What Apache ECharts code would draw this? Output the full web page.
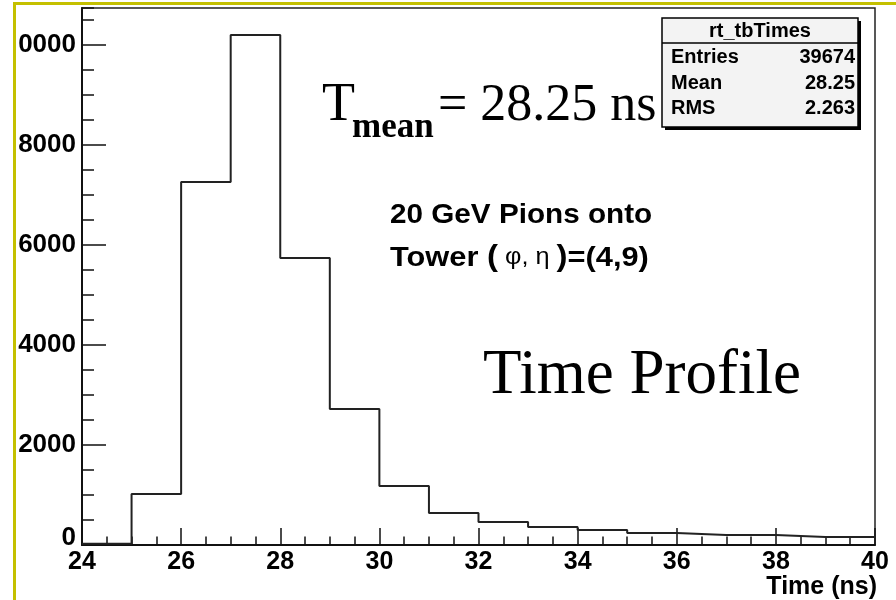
<!DOCTYPE html>
<html>
<head>
<meta charset="utf-8">
<script src="https://cdn.jsdelivr.net/npm/echarts@6/dist/echarts.min.js"></script>
<style>
  html, body { margin: 0; padding: 0; background: #fff; }
  #chart { width: 896px; height: 600px; }
</style>
</head>
<body>
<div id="chart"></div>
<script>
// Histogram bins: lower edges (ns) and counts per 1 ns bin
const binEdges = [24, 25, 26, 27, 28, 29, 30, 31, 32, 33, 34, 35, 36, 37, 38, 39, 40];
const binCounts = [25, 1020, 7260, 10200, 5740, 2720, 1180, 640, 460, 360, 300, 240, 200, 200, 160, 160];

// Axis tick labels
const xTickLabels = ['24', '26', '28', '30', '32', '34', '36', '38', '40'];
const yTickLabels = ['0', '2000', '4000', '6000', '8000', '10000'];

// Statistics box
const statsTitle = 'rt_tbTimes';
const statsNames = ['Entries', 'Mean', 'RMS'];
const statsValues = ['39674', '28.25', '2.263'];

const SANS = '"Liberation Sans", Arial, sans-serif';
const SERIF = '"Liberation Serif", "Times New Roman", serif';

// Step outline: each edge carries the count of the bin that starts there
const stepData = binEdges.map((e, i) => [e, binCounts[Math.min(i, binCounts.length - 1)]]);

function txt(x, y, text, font, align, vAlign, extra) {
  return Object.assign({
    type: 'text', x: x, y: y, z: 100,
    style: {
      text: text, font: font, fill: '#000',
      align: align, textAlign: align,
      verticalAlign: vAlign, textVerticalAlign: vAlign
    }
  }, extra || {});
}

const chart = echarts.init(document.getElementById('chart'), null, { renderer: 'canvas' });

const graphics = [
  // white margin outside the slide border
  { type: 'rect', z: 90, shape: { x: 0, y: 0, width: 18, height: 600 }, style: { fill: '#fff' } },
  { type: 'rect', z: 90, shape: { x: 0, y: 0, width: 896, height: 2 }, style: { fill: '#fff' } },
  // slide border
  { type: 'rect', z: 95, shape: { x: 13, y: 2, width: 3, height: 598 }, style: { fill: '#c4c000' } },
  { type: 'rect', z: 95, shape: { x: 13, y: 2, width: 883, height: 3 }, style: { fill: '#c4c000' } },

  // T_mean annotation
  txt(322, 106, 'T', '54px ' + SERIF, 'left', 'middle'),
  txt(352, 128, 'mean', 'bold 35px ' + SERIF, 'left', 'middle'),
  txt(438, 106, '= 28.25 ns', '52px ' + SERIF, 'left', 'middle'),

  // beam description
  txt(390, 215, '20 GeV Pions onto', 'bold 28px ' + SANS, 'left', 'middle', { scaleX: 1.06 }),
  {
    type: 'text', x: 390, y: 258, z: 100, scaleX: 1.1,
    style: {
      text: '{b|Tower }{g|(}{s| φ, η }{g|)}{b|=(4,9)}',
      align: 'left', textAlign: 'left', verticalAlign: 'middle', textVerticalAlign: 'middle',
      rich: {
        b: { font: 'bold 28px ' + SANS, fill: '#000', verticalAlign: 'middle' },
        g: { font: 'bold 30px ' + SANS, fill: '#000', verticalAlign: 'middle' },
        s: { font: '23px ' + SANS, fill: '#000', verticalAlign: 'middle' }
      }
    }
  },

  txt(483, 376, 'Time Profile', '63px ' + SERIF, 'left', 'middle'),

  // axis title
  txt(877, 587, 'Time (ns)', 'bold 25px ' + SANS, 'right', 'middle'),

  // statistics box with drop shadow
  { type: 'rect', z: 98, shape: { x: 665, y: 21, width: 196, height: 109 }, style: { fill: '#000' } },
  { type: 'rect', z: 99, shape: { x: 662, y: 18, width: 196, height: 109 },
    style: { fill: '#f3f3f3', stroke: '#000', lineWidth: 1.5 } },
  { type: 'line', z: 100, shape: { x1: 662, y1: 43, x2: 858, y2: 43 }, style: { stroke: '#000', lineWidth: 1.5 } },
  txt(760, 31, statsTitle, 'bold 20px ' + SANS, 'center', 'middle')
];
const rowY = [57, 83, 108];
statsNames.forEach((n, i) => {
  graphics.push(txt(671, rowY[i], n, 'bold 20px ' + SANS, 'left', 'middle'));
  graphics.push(txt(855, rowY[i], statsValues[i], 'bold 20px ' + SANS, 'right', 'middle'));
});

const yMax = 10740;

chart.setOption({
  animation: false,
  backgroundColor: '#fff',
  grid: {
    left: 82, right: 21, top: 8, bottom: 55,
    show: true, borderColor: '#222', borderWidth: 1.5, backgroundColor: '#fff'
  },
  xAxis: {
    type: 'value', min: 24, max: 40, interval: 2,
    axisLine: { show: true, onZero: false, lineStyle: { color: '#111', width: 2 } },
    axisTick: { show: true, inside: true, length: 17, lineStyle: { color: '#111', width: 1.5 } },
    minorTick: { show: true, splitNumber: 4, length: 8.5, lineStyle: { color: '#111', width: 1.5 } },
    splitLine: { show: false },
    axisLabel: {
      margin: 5, color: '#000', fontFamily: SANS, fontWeight: 'bold', fontSize: 25,
      formatter: v => xTickLabels.includes(String(v)) ? String(v) : ''
    }
  },
  yAxis: [
    {
      type: 'value', min: 0, max: yMax, interval: 2000, position: 'left',
      axisLine: { show: true, onZero: false, lineStyle: { color: '#111', width: 2 } },
      axisTick: { show: true, inside: true, length: 24, lineStyle: { color: '#111', width: 1.5 } },
      splitLine: { show: false },
      axisLabel: {
        margin: 6, color: '#000', fontFamily: SANS, fontWeight: 'bold', fontSize: 26,
        showMaxLabel: false,
        formatter: v => {
          const s = String(v);
          if (!yTickLabels.includes(s)) return '';
          return s === '0' ? '{z|0}' : s;
        },
        rich: { z: { fontFamily: SANS, fontWeight: 'bold', fontSize: 26, padding: [0, 0, 14, 0] } }
      }
    },
    {
      type: 'value', min: 0, max: yMax, interval: 500, position: 'left',
      axisLine: { show: false },
      axisTick: { show: true, inside: true, length: 12, lineStyle: { color: '#111', width: 1.5 } },
      splitLine: { show: false },
      axisLabel: { show: false }
    }
  ],
  series: [{
    type: 'line',
    step: 'end',
    data: stepData,
    yAxisIndex: 0,
    symbol: 'none',
    lineStyle: { color: '#222', width: 2 },
    silent: true
  }],
  graphic: graphics
});
</script>
</body>
</html>
